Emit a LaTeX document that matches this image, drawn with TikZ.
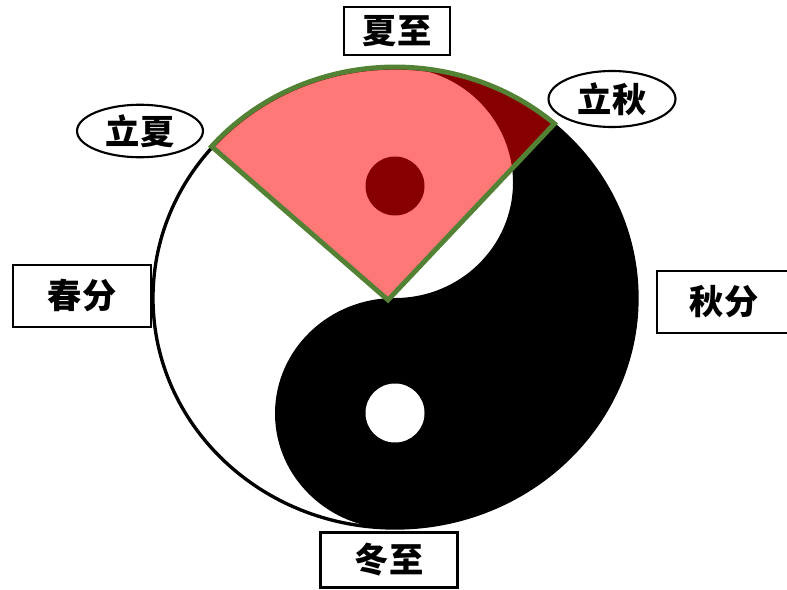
\documentclass[tikz,border=0pt]{standalone}
\usepackage{fontspec}
\newfontfamily\cjk{Noto Sans CJK SC}
\usetikzlibrary{positioning,shapes.geometric,calc}
\definecolor{summer}{HTML}{FF0000}
\definecolor{rim}{HTML}{548235}
\tikzset{
  term/.style={draw=black,line width=1.2pt,fill=white,inner sep=0pt,
               font=\cjk\bfseries\fontsize{19.5}{19.5}\selectfont},
  termbox/.style={term,rectangle,minimum width=2.7cm,minimum height=1.2cm},
  termoval/.style={term,ellipse,minimum width=2.52cm,minimum height=1.05cm},
  dot/.style={circle,inner sep=0pt,minimum size=1.18cm},
  season/.style={fill=summer,fill opacity=0.53,draw=rim,draw opacity=1,line width=2.8pt}
}

\begin{document}
\begin{tikzpicture}[x=0.02cm,y=0.02cm]
    \useasboundingbox (0,0) rectangle (787,589);

    \coordinate (yy) at (395,291);
    \coordinate (apex) at (388,289);

    % yin-yang
    \fill[black] (395,522) arc[start angle=90,end angle=-90,x radius=243,y radius=231]
        arc[start angle=-90,end angle=-270,x radius=120,y radius=115.5]
        arc[start angle=-90,end angle=90,x radius=118,y radius=115.5] -- cycle;
    \draw[line width=1.9pt] (yy) ellipse[x radius=242,y radius=230];
    \node[dot,fill=black] (yang) at (395,403) {};
    \node[dot,fill=white] (yin) at (395,176) {};

    % summer quarter
    \draw[season] (apex) -- ($(yy)+(139:243 and 231)$)
        arc[start angle=139,end angle=49,x radius=243,y radius=231] -- cycle;

    % terms
    \node[termbox,minimum width=2.12cm,minimum height=0.96cm] (xiazhi) at (397,558) {夏至};
    \node[termoval] (lixia) at (140,458) {立夏};
    \node[termoval,minimum width=2.54cm,minimum height=1.12cm] (liqiu) at (612,490) {立秋};
    \node[termbox,minimum width=2.76cm,minimum height=1.24cm] (chunfen) at (82,293) {春分};
    \node[termbox,minimum width=2.68cm,minimum height=1.24cm] (qiufen) at (724,287) {秋分};
    \node[termbox,minimum width=2.74cm,minimum height=1.1cm] (dongzhi) at (389,29) {冬至};
\end{tikzpicture}
\end{document}
